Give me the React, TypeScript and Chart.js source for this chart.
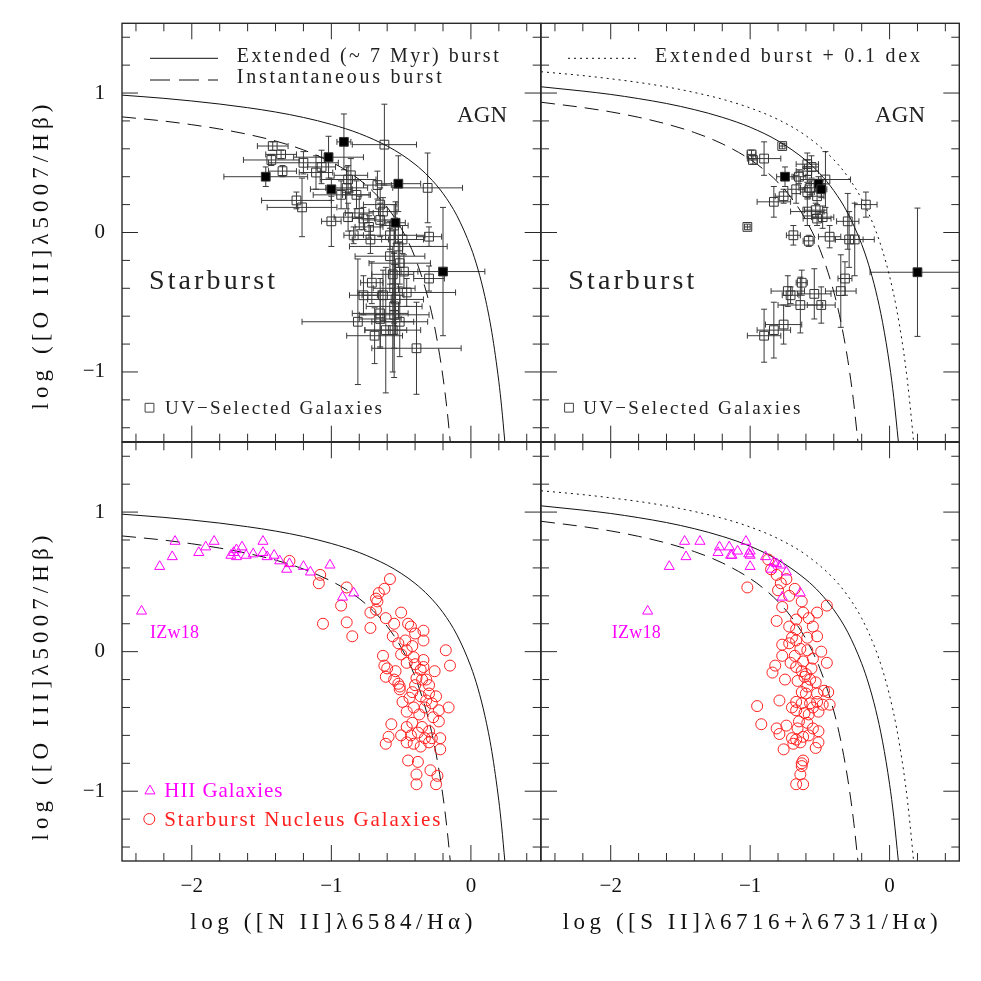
import React, { useEffect, useRef } from 'react';
import { Chart, registerables } from 'chart.js';
Chart.register(...registerables);

// ---------- axes ----------
const X_MIN = -2.5, X_MAX = 0.5, Y_MIN = -1.5, Y_MAX = 1.5;
const xTickValues = [-2, -1, 0];
const xTickLabels = ['\u22122', '\u22121', '0'];
const yTickValues = [1, 0, -1];
const yTickLabels = ['1', '0', '\u22121'];

// ---------- model curves ----------
const niiExtX = [-2.5, -2.2, -2.0, -1.8, -1.6, -1.4, -1.2, -1.0, -0.8, -0.6, -0.5, -0.4, -0.3, -0.2, -0.1, 0.0, 0.05, 0.1, 0.15, 0.2, 0.22, 0.243];
const niiExtY = [0.985, 0.962, 0.943, 0.921, 0.895, 0.864, 0.825, 0.775, 0.710, 0.620, 0.561, 0.489, 0.398, 0.280, 0.120, -0.108, -0.262, -0.459, -0.716, -1.069, -1.25, -1.5];
const niiInstX = [-2.5, -2.2, -2.0, -1.8, -1.6, -1.4, -1.2, -1.0, -0.9, -0.8, -0.7, -0.6, -0.5, -0.4, -0.3, -0.25, -0.2, -0.17, -0.148];
const niiInstY = [0.829, 0.799, 0.773, 0.742, 0.704, 0.656, 0.592, 0.505, 0.449, 0.380, 0.293, 0.181, 0.031, -0.180, -0.499, -0.729, -1.038, -1.281, -1.5];
const siiExtX = [-2.5, -2.2, -2.0, -1.8, -1.6, -1.4, -1.2, -1.0, -0.8, -0.6, -0.5, -0.4, -0.3, -0.2, -0.15, -0.1, -0.05, 0.0, 0.03, 0.063];
const siiExtY = [1.045, 1.014, 0.990, 0.960, 0.925, 0.881, 0.826, 0.755, 0.657, 0.517, 0.422, 0.300, 0.139, -0.085, -0.232, -0.414, -0.646, -0.950, -1.183, -1.5];
const siiInstX = [-2.5, -2.2, -2.0, -1.8, -1.6, -1.4, -1.2, -1.0, -0.9, -0.8, -0.7, -0.6, -0.5, -0.4, -0.35, -0.3, -0.26, -0.227];
const siiInstY = [0.934, 0.896, 0.865, 0.826, 0.778, 0.717, 0.636, 0.524, 0.450, 0.359, 0.242, 0.090, -0.120, -0.426, -0.638, -0.912, -1.198, -1.5];
const siiPlusX = [-2.5, -2.2, -2.0, -1.8, -1.6, -1.4, -1.2, -1.0, -0.8, -0.6, -0.4, -0.3, -0.2, -0.1, -0.05, 0.0, 0.05, 0.1, 0.13, 0.163, 0.172];
const siiPlusY = [1.153, 1.125, 1.102, 1.076, 1.044, 1.004, 0.956, 0.893, 0.810, 0.694, 0.522, 0.400, 0.239, 0.015, -0.132, -0.314, -0.546, -0.850, -1.083, -1.402, -1.5];

// ---------- UV-selected galaxies, [N II] panel ----------
const niiUvX = [-1.42, -1.36, -1.43, -1.35, -0.62, -1.20, -1.11, -1.07, -0.86, -0.88, -0.89, -0.82, -0.67, -0.31, -1.25, -1.21, -1.00, -0.88, -0.80, -0.77, -0.73, -0.65, -0.63, -0.65, -0.84, -0.72, -0.49, -0.30, -0.52, -0.58, -0.51, -0.48, -0.30, -0.71, -0.77, -0.63, -0.46, -0.54, -0.55, -0.65, -0.55, -0.81, -0.69, -0.56, -0.51, -0.39, -0.61, -0.55, -0.56, -0.58, -0.55, -0.93, -0.65];
const niiUvY = [0.62, 0.56, 0.52, 0.44, 0.63, 0.50, 0.43, 0.47, 0.41, 0.38, 0.32, 0.27, 0.34, 0.32, 0.23, 0.18, 0.08, 0.11, 0.14, 0.10, 0.04, 0.20, 0.15, 0.09, -0.02, -0.05, -0.05, -0.03, -0.10, -0.17, -0.22, -0.28, -0.33, -0.36, -0.45, -0.45, -0.43, -0.48, -0.53, -0.58, -0.59, -0.64, -0.74, -0.70, -0.64, -0.83, -0.70, -0.40, -0.30, -0.02, 0.05, 0.27, -0.62];
const niiUvXErr = [0.11, 0.11, 0.20, 0.10, 0.23, 0.25, 0.12, 0.10, 0.12, 0.20, 0.15, 0.10, 0.10, 0.25, 0.25, 0.25, 0.07, 0.10, 0.10, 0.08, 0.10, 0.12, 0.10, 0.12, 0.07, 0.13, 0.15, 0.09, 0.35, 0.25, 0.22, 0.10, 0.11, 0.08, 0.10, 0.15, 0.35, 0.20, 0.20, 0.20, 0.25, 0.40, 0.20, 0.20, 0.20, 0.32, 0.15, 0.15, 0.15, 0.25, 0.10, 0.20, 0.15];
const niiUvYErr = [0.03, 0.03, 0.04, 0.04, 0.29, 0.08, 0.12, 0.12, 0.12, 0.10, 0.15, 0.10, 0.10, 0.25, 0.06, 0.21, 0.18, 0.10, 0.12, 0.08, 0.08, 0.12, 0.10, 0.12, 0.06, 0.10, 0.10, 0.07, 0.15, 0.20, 0.15, 0.12, 0.09, 0.15, 0.14, 0.18, 0.10, 0.25, 0.30, 0.25, 0.45, 0.45, 0.20, 0.30, 0.25, 0.33, 0.45, 0.25, 0.20, 0.10, 0.15, 0.10, 0.20];
const niiUvFillX = [-1.47, -1.02, -0.91, -1.00, -0.52, -0.54, -0.20];
const niiUvFillY = [0.40, 0.54, 0.65, 0.31, 0.35, 0.07, -0.28];
const niiUvFillXErr = [0.30, 0.25, 0.05, 0.15, 0.16, 0.07, 0.30];
const niiUvFillYErr = [0.07, 0.15, 0.20, 0.08, 0.20, 0.15, 0.46];

// ---------- UV-selected galaxies, [S II] panel ----------
const siiUvX = [-0.77, -0.99, -0.98, -0.90, -0.59, -0.59, -0.65, -0.46, -0.67, -0.59, -0.76, -0.83, -0.52, -0.17, -0.59, -0.53, -0.52, -0.48, -0.30, -1.02, -0.69, -0.58, -0.43, -0.29, -0.25, -0.32, -0.35, -0.63, -0.73, -0.71, -0.54, -0.64, -0.49, -0.76, -0.83, -0.90, -0.56, -0.57];
const siiUvY = [0.62, 0.56, 0.52, 0.53, 0.49, 0.44, 0.40, 0.38, 0.31, 0.29, 0.26, 0.22, 0.26, 0.20, 0.15, 0.16, 0.10, 0.11, 0.08, 0.04, -0.02, -0.06, -0.03, -0.05, -0.05, -0.33, -0.42, -0.36, -0.42, -0.45, -0.44, -0.52, -0.52, -0.66, -0.70, -0.74, 0.47, 0.32];
const siiUvXErr = [0.02, 0.03, 0.03, 0.12, 0.08, 0.08, 0.05, 0.18, 0.06, 0.05, 0.06, 0.12, 0.05, 0.08, 0.12, 0.08, 0.10, 0.08, 0.08, 0.02, 0.05, 0.04, 0.08, 0.10, 0.14, 0.05, 0.11, 0.04, 0.12, 0.06, 0.12, 0.16, 0.10, 0.13, 0.12, 0.12, 0.05, 0.08];
const siiUvYErr = [0.02, 0.03, 0.03, 0.12, 0.08, 0.08, 0.05, 0.20, 0.10, 0.05, 0.05, 0.11, 0.06, 0.09, 0.10, 0.05, 0.05, 0.08, 0.20, 0.02, 0.07, 0.04, 0.08, 0.20, 0.26, 0.12, 0.26, 0.09, 0.11, 0.06, 0.18, 0.20, 0.13, 0.14, 0.20, 0.19, 0.08, 0.05];
const siiUvFillX = [-0.75, -0.51, -0.49, 0.20];
const siiUvFillY = [0.40, 0.35, 0.31, -0.285];
const siiUvFillXErr = [0.06, 0.05, 0.04, 0.34];
const siiUvFillYErr = [0.07, 0.05, 0.06, 0.46];

// ---------- HII galaxies ----------
const niiHiiX = [-2.36, -2.23, -2.14, -2.12, -1.95, -1.90, -1.84, -1.72, -1.68, -1.64, -1.68, -1.61, -1.49, -1.49, -1.46, -1.41, -1.37, -1.32, -1.30, -1.20, -1.15, -1.01, -0.92, -0.84, -1.56, -1.70];
const niiHiiY = [0.29, 0.61, 0.68, 0.79, 0.71, 0.75, 0.79, 0.69, 0.73, 0.75, 0.68, 0.69, 0.79, 0.71, 0.68, 0.69, 0.65, 0.59, 0.63, 0.61, 0.57, 0.62, 0.39, 0.42, 0.70, 0.71];
const siiHiiX = [-1.735, -1.58, -1.46, -1.47, -1.36, -1.23, -1.22, -1.15, -1.14, -1.09, -1.03, -1.01, -1.00, -1.00, -0.89, -0.85, -0.81, -0.78, -0.74, -0.77, -0.64, -1.13, -1.00, -0.83];
const siiHiiY = [0.29, 0.61, 0.68, 0.79, 0.79, 0.71, 0.75, 0.75, 0.69, 0.72, 0.79, 0.70, 0.69, 0.61, 0.68, 0.59, 0.63, 0.62, 0.57, 0.39, 0.42, 0.69, 0.72, 0.64];

// ---------- Starburst nucleus galaxies ----------
const niiSbnX = [-1.30, -1.08, -1.09, -0.89, -0.93, -1.06, -0.89, -0.85, -0.72, -0.72, -0.66, -0.67, -0.68, -0.61, -0.58, -0.50, -0.56, -0.43, -0.34, -0.34, -0.52, -0.47, -0.46, -0.18, -0.15, -0.63, -0.62, -0.61, -0.54, -0.51, -0.51, -0.41, -0.34, -0.34, -0.26, -0.39, -0.35, -0.32, -0.42, -0.49, -0.36, -0.32, -0.28, -0.23, -0.16, -0.23, -0.41, -0.46, -0.57, -0.59, -0.61, -0.46, -0.42, -0.46, -0.41, -0.36, -0.35, -0.30, -0.28, -0.22, -0.30, -0.22, -0.45, -0.38, -0.39, -0.39, -0.29, -0.24, -0.25, -0.42, -0.46, -0.40, -0.36, -0.52, -0.60, -0.55, -0.30, -0.33, -0.68, -0.62, -0.55, -0.40, -0.45, -0.50, -0.37, -0.27, -0.43, -0.38, -0.33, -0.50, -0.40, -0.44, -0.30, -0.25];
const niiSbnY = [0.65, 0.55, 0.49, 0.46, 0.33, 0.20, 0.21, 0.11, 0.28, 0.17, 0.42, 0.36, 0.30, 0.24, 0.52, 0.28, 0.11, 0.18, 0.15, 0.08, 0.06, 0.08, 0.01, 0.01, -0.10, -0.03, -0.10, -0.18, -0.14, -0.25, -0.27, -0.04, -0.06, -0.11, -0.14, -0.19, -0.20, -0.20, -0.29, -0.36, -0.32, -0.35, -0.37, -0.42, -0.40, -0.50, -0.40, -0.43, -0.52, -0.61, -0.66, -0.54, -0.51, -0.65, -0.66, -0.68, -0.54, -0.57, -0.62, -0.62, -0.65, -0.70, -0.78, -0.79, -0.88, -0.95, -0.85, -0.89, -0.95, 0.04, -0.08, -0.09, -0.13, -0.23, -0.12, -0.20, -0.30, -0.40, 0.38, 0.45, 0.20, 0.13, 0.20, -0.02, -0.45, -0.47, -0.60, -0.58, -0.62, -0.60, -0.24, -0.33, -0.24, -0.32];
const siiSbnX = [-1.02, -0.87, -0.81, -0.78, -0.74, -0.77, -0.81, -0.72, -0.67, -0.63, -0.62, -0.52, -0.45, -0.67, -0.55, -0.52, -0.59, -0.77, -0.72, -0.67, -0.77, -0.68, -0.59, -0.49, -0.55, -0.45, -0.82, -0.84, -0.75, -0.67, -0.63, -0.61, -0.57, -0.53, -0.59, -0.63, -0.52, -0.44, -0.95, -0.79, -0.67, -0.63, -0.57, -0.52, -0.48, -0.43, -0.67, -0.61, -0.51, -0.92, -0.81, -0.79, -0.74, -0.65, -0.59, -0.51, -0.70, -0.67, -0.64, -0.69, -0.62, -0.76, -0.53, -0.51, -0.62, -0.63, -0.64, -0.62, -0.67, -0.63, -0.60, -0.62, -0.70, -0.56, -0.47, -0.66, -0.60, -0.55, -0.70, -0.66, -0.58, -0.85, -0.80, -0.72, -0.68, -0.58, -0.64, -0.71, -0.58, -0.55];
const siiSbnY = [0.46, 0.66, 0.55, 0.49, 0.52, 0.32, 0.22, 0.18, 0.23, 0.36, 0.28, 0.28, 0.33, 0.16, 0.18, 0.11, 0.10, 0.05, 0.06, 0.08, -0.03, -0.03, 0.01, 0.00, -0.05, -0.08, -0.10, -0.15, -0.20, -0.11, -0.14, -0.18, -0.20, -0.22, -0.25, -0.29, -0.30, -0.29, -0.39, -0.35, -0.36, -0.37, -0.37, -0.36, -0.38, -0.38, -0.42, -0.44, -0.43, -0.52, -0.55, -0.59, -0.53, -0.50, -0.51, -0.57, -0.62, -0.63, -0.65, -0.66, -0.61, -0.70, -0.69, -0.65, -0.78, -0.82, -0.88, -0.95, -0.95, -0.80, -0.16, -0.07, 0.10, -0.12, -0.28, -0.21, -0.30, -0.40, -0.40, -0.55, -0.60, 0.59, 0.44, 0.40, 0.45, 0.24, 0.02, -0.08, -0.45, -0.55];

// ---------- styling constants ----------
const FONT = '"Liberation Serif", "DejaVu Serif", serif';
const INK = '#2a2a2a';
const MAGENTA = '#ff00ff';
const RED = '#ff2020';

const pts = (xs: number[], ys: number[]) => xs.map((x, i) => ({ x, y: ys[i] }));

function curveDs(xs: number[], ys: number[], dash: number[]) {
  return {
    type: 'line',
    data: pts(xs, ys),
    borderColor: '#111',
    borderWidth: 1,
    borderDash: dash,
    pointRadius: 0,
    fill: false,
    cubicInterpolationMode: 'monotone',
    order: 5,
  };
}
function squareDs(xs: number[], ys: number[], xe: number[], ye: number[], filled: boolean) {
  return {
    type: 'scatter',
    data: pts(xs, ys),
    errX: xe,
    errY: ye,
    pointStyle: 'rect',
    pointRadius: 6.2,
    pointBorderWidth: 1,
    borderColor: '#333',
    pointBorderColor: '#333',
    backgroundColor: filled ? '#000' : 'rgba(0,0,0,0)',
    pointBackgroundColor: filled ? '#000' : 'rgba(0,0,0,0)',
    order: filled ? 1 : 2,
  };
}
function markDs(xs: number[], ys: number[], style: string, color: string, r: number) {
  return {
    type: 'scatter',
    data: pts(xs, ys),
    pointStyle: style,
    pointRadius: r,
    pointBorderWidth: 1,
    borderColor: color,
    pointBorderColor: color,
    backgroundColor: 'rgba(0,0,0,0)',
    pointBackgroundColor: 'rgba(0,0,0,0)',
    order: style === 'triangle' ? 1 : 2,
  };
}

function drawText(ctx: any, s: string, x: number, y: number, size: number, color: string, w: number | null, align: string, baseline = 'alphabetic') {
  ctx.save();
  ctx.font = `${size}px ${FONT}`;
  ctx.fillStyle = color;
  ctx.textAlign = 'left';
  ctx.textBaseline = baseline;
  ctx.letterSpacing = '0px';
  const m = ctx.measureText(s).width;
  const n = Array.from(s).length;
  let width = m;
  if (w && n > 1) {
    const ls = (w - m) / (n - 1);
    ctx.letterSpacing = `${ls}px`;
    width = w;
  }
  let tx = x;
  if (align === 'center') tx = x - width / 2;
  else if (align === 'right') tx = x - width;
  ctx.fillText(s, tx, y);
  ctx.restore();
}

function drawMarker(ctx: any, kind: string, x: number, y: number, color: string) {
  ctx.save();
  ctx.strokeStyle = color;
  ctx.lineWidth = 1;
  ctx.beginPath();
  if (kind === 'rect') {
    ctx.rect(x - 4.4, y - 4.4, 8.8, 8.8);
  } else if (kind === 'triangle') {
    const r = 5.8;
    ctx.moveTo(x, y - r);
    ctx.lineTo(x + 0.866 * r, y + 0.5 * r);
    ctx.lineTo(x - 0.866 * r, y + 0.5 * r);
    ctx.closePath();
  } else {
    ctx.arc(x, y, 5.5, 0, Math.PI * 2);
  }
  ctx.stroke();
  ctx.restore();
}

function makePlugin(spec: any) {
  return {
    id: 'panelDecor',
    beforeDatasetsDraw(chart: any) {
      const { ctx, chartArea: a } = chart;
      const xs = chart.scales.x, ys = chart.scales.y;
      ctx.save();
      ctx.beginPath();
      ctx.rect(a.left, a.top, a.right - a.left, a.bottom - a.top);
      ctx.clip();
      ctx.strokeStyle = '#3a3a3a';
      ctx.lineWidth = 1;
      const cap = 3;
      chart.data.datasets.forEach((ds: any) => {
        if (!ds.errX) return;
        ds.data.forEach((p: any, i: number) => {
          const px = xs.getPixelForValue(p.x), py = ys.getPixelForValue(p.y);
          const ex = ds.errX[i], ey = ds.errY[i];
          ctx.beginPath();
          if (ex > 0) {
            const l = xs.getPixelForValue(p.x - ex), r = xs.getPixelForValue(p.x + ex);
            ctx.moveTo(l, py); ctx.lineTo(r, py);
            ctx.moveTo(l, py - cap); ctx.lineTo(l, py + cap);
            ctx.moveTo(r, py - cap); ctx.lineTo(r, py + cap);
          }
          if (ey > 0) {
            const t = ys.getPixelForValue(p.y + ey), b = ys.getPixelForValue(p.y - ey);
            ctx.moveTo(px, t); ctx.lineTo(px, b);
            ctx.moveTo(px - cap, t); ctx.lineTo(px + cap, t);
            ctx.moveTo(px - cap, b); ctx.lineTo(px + cap, b);
          }
          ctx.stroke();
        });
      });
      ctx.restore();
    },
    afterDraw(chart: any) {
      const { ctx, chartArea: a } = chart;
      const xs = chart.scales.x, ys = chart.scales.y;
      ctx.save();
      // frame
      ctx.strokeStyle = INK;
      ctx.lineWidth = 1.4;
      ctx.strokeRect(a.left, a.top, a.right - a.left, a.bottom - a.top);
      // ticks
      ctx.lineWidth = 1;
      ctx.beginPath();
      for (let k = -12; k <= 2; k++) {
        const v = k * 0.2;
        const major = Math.abs(v - Math.round(v)) < 1e-6;
        const len = major ? 16 : 8;
        const px = xs.getPixelForValue(v);
        ctx.moveTo(px, a.bottom); ctx.lineTo(px, a.bottom - len);
        ctx.moveTo(px, a.top); ctx.lineTo(px, a.top + len);
      }
      for (let k = -7; k <= 7; k++) {
        const v = k * 0.2;
        const major = Math.abs(v - Math.round(v)) < 1e-6;
        const len = major ? 16 : 8;
        const py = ys.getPixelForValue(v);
        ctx.moveTo(a.left, py); ctx.lineTo(a.left + len, py);
        ctx.moveTo(a.right, py); ctx.lineTo(a.right - len, py);
      }
      ctx.stroke();
      ctx.restore();

      // tick labels
      if (spec.yLabels) {
        yTickValues.forEach((v, i) => {
          drawText(ctx, yTickLabels[i], a.left - 17, ys.getPixelForValue(v), 21, '#111', null, 'right', 'middle');
        });
      }
      if (spec.xLabels) {
        xTickValues.forEach((v, i) => {
          drawText(ctx, xTickLabels[i], xs.getPixelForValue(v), a.bottom + 25, 21, '#111', null, 'center', 'middle');
        });
      }
      if (spec.xTitle) {
        const t = spec.xTitle;
        drawText(ctx, t.t, (a.left + a.right) / 2, a.bottom + 62, 23, '#111', t.w, 'center', 'middle');
      }
      if (spec.yTitle) {
        const t = spec.yTitle;
        ctx.save();
        ctx.translate(42, t.cy);
        ctx.rotate(-Math.PI / 2);
        drawText(ctx, t.t, 0, 0, 23, '#111', t.w, 'center', 'middle');
        ctx.restore();
      }
      // legend lines
      (spec.lines || []).forEach((l: any) => {
        ctx.save();
        ctx.strokeStyle = '#111';
        ctx.lineWidth = 1;
        ctx.setLineDash(l.dash);
        ctx.beginPath();
        ctx.moveTo(l.x1, l.y); ctx.lineTo(l.x2, l.y);
        ctx.stroke();
        ctx.restore();
      });
      (spec.markers || []).forEach((m: any) => drawMarker(ctx, m.kind, m.x, m.y, m.color));
      (spec.texts || []).forEach((t: any) => drawText(ctx, t.t, t.x, t.y, t.size, t.color || '#222', t.w, 'left'));
    },
  };
}

const PANELS = [
  {
    pad: { left: 122, top: 23.3, right: 440.3, bottom: 539.3 },
    datasets: () => [
      curveDs(niiExtX, niiExtY, []),
      curveDs(niiInstX, niiInstY, [14, 8]),
      squareDs(niiUvX, niiUvY, niiUvXErr, niiUvYErr, false),
      squareDs(niiUvFillX, niiUvFillY, niiUvFillXErr, niiUvFillYErr, true),
    ],
    yLabels: true,
    yTitle: { t: 'log ([O III]\u03bb5007/H\u03b2)', cy: 257, w: 305 },
    lines: [
      { x1: 150, x2: 218, y: 58.3, dash: [] },
      { x1: 150, x2: 218, y: 80, dash: [20, 9] },
    ],
    markers: [{ kind: 'rect', x: 149.5, y: 407.7, color: '#444' }],
    texts: [
      { t: 'Extended (~ 7 Myr) burst', x: 236.7, y: 62, size: 20, w: 262 },
      { t: 'Instantaneous burst', x: 236.7, y: 83, size: 20, w: 205 },
      { t: 'AGN', x: 457, y: 121.7, size: 23, w: 50 },
      { t: 'Starburst', x: 149, y: 289.3, size: 28, w: 126 },
      { t: 'UV\u2212Selected Galaxies', x: 165, y: 414, size: 19, w: 217 },
    ],
  },
  {
    pad: { left: 541, top: 23.3, right: 21.7, bottom: 539.3 },
    datasets: () => [
      curveDs(siiExtX, siiExtY, []),
      curveDs(siiInstX, siiInstY, [14, 8]),
      curveDs(siiPlusX, siiPlusY, [2, 4]),
      squareDs(siiUvX, siiUvY, siiUvXErr, siiUvYErr, false),
      squareDs(siiUvFillX, siiUvFillY, siiUvFillXErr, siiUvFillYErr, true),
    ],
    lines: [{ x1: 568, x2: 638, y: 58.3, dash: [2, 4] }],
    markers: [{ kind: 'rect', x: 569, y: 407.7, color: '#444' }],
    texts: [
      { t: 'Extended burst + 0.1 dex', x: 655, y: 62, size: 20, w: 265 },
      { t: 'AGN', x: 875, y: 121.7, size: 23, w: 50 },
      { t: 'Starburst', x: 568.3, y: 289.3, size: 28, w: 126 },
      { t: 'UV\u2212Selected Galaxies', x: 583.3, y: 414, size: 19, w: 217 },
    ],
  },
  {
    pad: { left: 122, top: 442.3, right: 440.3, bottom: 120 },
    datasets: () => [
      curveDs(niiExtX, niiExtY, []),
      curveDs(niiInstX, niiInstY, [14, 8]),
      markDs(niiHiiX, niiHiiY, 'triangle', MAGENTA, 5.8),
      markDs(niiSbnX, niiSbnY, 'circle', RED, 5.5),
    ],
    yLabels: true,
    xLabels: true,
    yTitle: { t: 'log ([O III]\u03bb5007/H\u03b2)', cy: 688, w: 305 },
    xTitle: { t: 'log ([N II]\u03bb6584/H\u03b1)', w: 282 },
    markers: [
      { kind: 'triangle', x: 150, y: 791, color: MAGENTA },
      { kind: 'circle', x: 149.3, y: 819, color: RED },
    ],
    texts: [
      { t: 'IZw18', x: 150, y: 638.3, size: 18, w: 49, color: MAGENTA },
      { t: 'HII Galaxies', x: 164.3, y: 797.3, size: 21, w: 118, color: MAGENTA },
      { t: 'Starburst Nucleus Galaxies', x: 164.3, y: 825.7, size: 21, w: 276, color: RED },
    ],
  },
  {
    pad: { left: 541, top: 442.3, right: 21.7, bottom: 120 },
    datasets: () => [
      curveDs(siiExtX, siiExtY, []),
      curveDs(siiInstX, siiInstY, [14, 8]),
      curveDs(siiPlusX, siiPlusY, [2, 4]),
      markDs(siiHiiX, siiHiiY, 'triangle', MAGENTA, 5.8),
      markDs(siiSbnX, siiSbnY, 'circle', RED, 5.5),
    ],
    xLabels: true,
    xTitle: { t: 'log ([S II]\u03bb6716+\u03bb6731/H\u03b1)', w: 375 },
    texts: [{ t: 'IZw18', x: 611.7, y: 638.3, size: 18, w: 49, color: MAGENTA }],
  },
];

function buildConfig(spec: any): any {
  return {
    type: 'scatter',
    data: { datasets: spec.datasets() },
    options: {
      animation: false,
      responsive: false,
      devicePixelRatio: 1,
      events: [],
      layout: { padding: spec.pad },
      scales: {
        x: { type: 'linear', min: X_MIN, max: X_MAX, display: false },
        y: { type: 'linear', min: Y_MIN, max: Y_MAX, display: false },
      },
      plugins: { legend: { display: false }, tooltip: { enabled: false }, title: { display: false } },
    },
    plugins: [makePlugin(spec)],
  };
}

export default function App() {
  const r0 = useRef<HTMLCanvasElement>(null);
  const r1 = useRef<HTMLCanvasElement>(null);
  const r2 = useRef<HTMLCanvasElement>(null);
  const r3 = useRef<HTMLCanvasElement>(null);
  const refs = [r0, r1, r2, r3];
  useEffect(() => {
    const charts = PANELS.map((p, i) => new Chart(refs[i].current as HTMLCanvasElement, buildConfig(p)));
    return () => charts.forEach((c) => c.destroy());
  }, []);
  return (
    <div style={{ position: 'absolute', left: 0, top: 0, width: 981, height: 981, background: '#fff' }}>
      {PANELS.map((_, i) => (
        <canvas
          key={i}
          ref={refs[i]}
          width={981}
          height={981}
          style={{ position: 'absolute', left: 0, top: 0, width: 981, height: 981 }}
        />
      ))}
    </div>
  );
}
